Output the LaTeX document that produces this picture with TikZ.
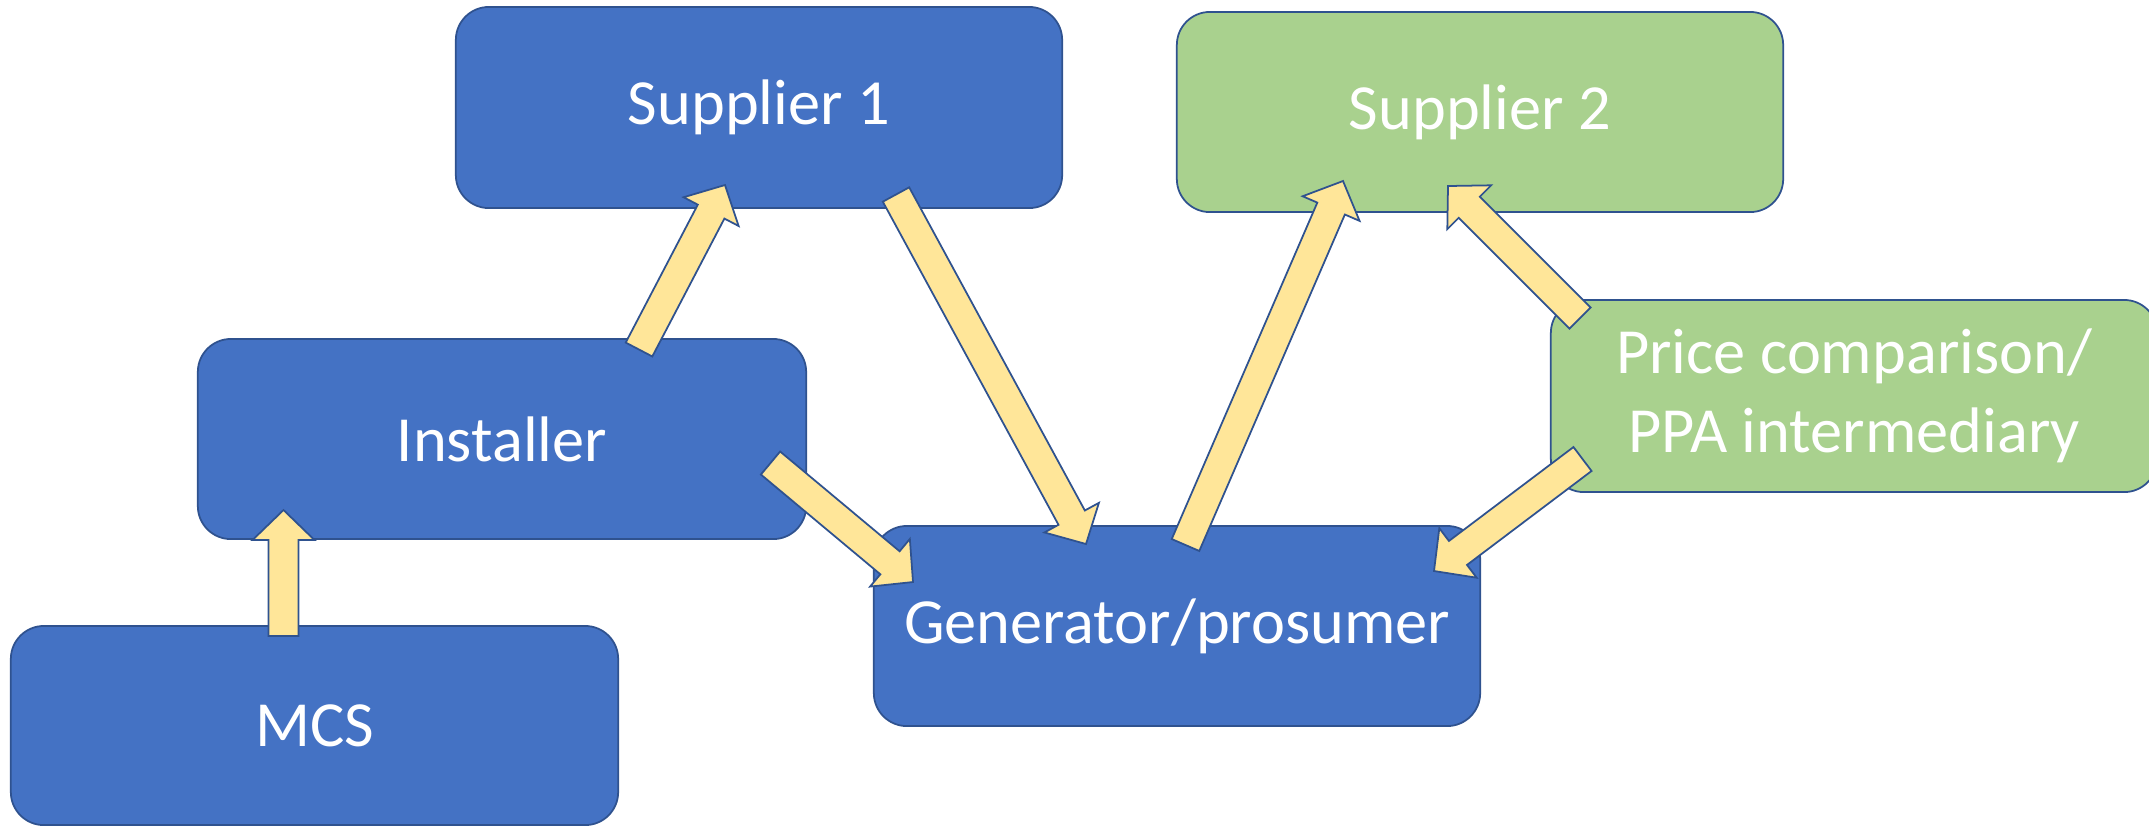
\documentclass[tikz,border=0pt]{standalone}
\usepackage{fontspec}
\setmainfont{Carlito}
\usetikzlibrary{calc}
\definecolor{boxblue}{HTML}{4472C4}
\definecolor{boxgreen}{HTML}{A9D18E}
\definecolor{edgeblue}{HTML}{2F528F}
\definecolor{arrowfill}{HTML}{FFE699}
\newcommand\shaftw{0.15cm}
\newcommand\headw{0.31cm}
\newcommand\headl{0.30cm}
\newcommand\blockarrow[2]{%
  \draw[barrow] let \p1=(#1), \p2=(#2), \n1={atan2(\y2-\y1,\x2-\x1)} in
    ($(\p1)+(\n1+90:\shaftw)$)
    -- ($(\p2)+(\n1+180:\headl)+(\n1+90:\shaftw)$)
    -- ($(\p2)+(\n1+180:\headl)+(\n1+90:\headw)$)
    -- (\p2)
    -- ($(\p2)+(\n1+180:\headl)+(\n1-90:\headw)$)
    -- ($(\p2)+(\n1+180:\headl)+(\n1-90:\shaftw)$)
    -- ($(\p1)+(\n1-90:\shaftw)$) -- cycle;}
\tikzset{
  box/.style={draw=edgeblue, line width=0.5pt, rounded corners=0.33cm,
    minimum width=6.06cm, minimum height=2cm, inner sep=0pt,
    text=white, align=center, font=\fontsize{18.3}{22.6}\selectfont},
  bluebox/.style={box, fill=boxblue},
  greenbox/.style={box, fill=boxgreen},
  barrow/.style={draw=edgeblue, line width=0.5pt, fill=arrowfill, line join=miter}
}
\begin{document}
\begin{tikzpicture}[x=0.01cm, y=-0.01cm]
\useasboundingbox (0,0) rectangle (2149,826);
\clip (0,0) rectangle (2149,826);
\node[bluebox, minimum height=2.01cm] (sup1) at (759,107.5) {Supplier 1};
\node[greenbox] (sup2) at (1480,112) {Supplier 2};
\node[bluebox, minimum width=6.08cm] (inst) at (502,439) {Installer};
\node[bluebox, minimum width=6.07cm, minimum height=1.99cm] (mcs) at (314.5,725.5) {MCS};
\node[bluebox] (gen) at (1177,626) {Generator/prosumer};
\node[greenbox, minimum height=1.92cm] (price) at (1854,396) {Price comparison/\\PPA intermediary};
% arrow end points
\coordinate (a1t) at (283.5,636);  \coordinate (a1h) at (283.5,510);
\coordinate (a2t) at (639,349.5);  \coordinate (a2h) at (725,185);
\coordinate (a3t) at (896,194.5);  \coordinate (a3h) at (1086,544);
\coordinate (a4t) at (770.5,463);  \coordinate (a4h) at (913,582);
\coordinate (a5t) at (1185.5,545); \coordinate (a5h) at (1343,181);
\coordinate (a6t) at (1580,318);   \coordinate (a6h) at (1448,186);
\coordinate (a7t) at (1582.5,459); \coordinate (a7h) at (1434,571);
\blockarrow{a1t}{a1h}
\blockarrow{a2t}{a2h}
\blockarrow{a3t}{a3h}
\blockarrow{a4t}{a4h}
\blockarrow{a5t}{a5h}
\blockarrow{a6t}{a6h}
\blockarrow{a7t}{a7h}
\end{tikzpicture}
\end{document}
